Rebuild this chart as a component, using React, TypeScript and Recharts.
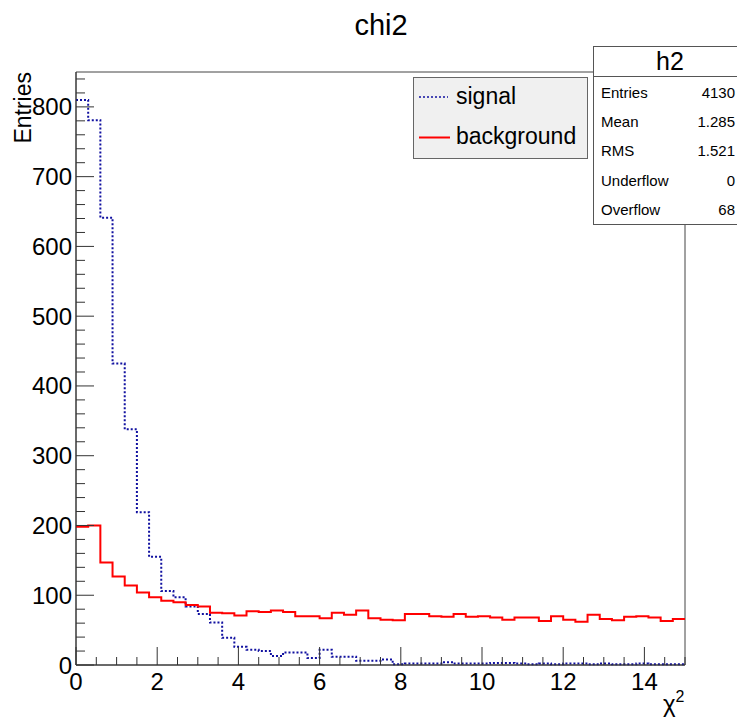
import { ComposedChart, Line, ReferenceArea, XAxis, YAxis } from 'recharts'

// 50 bins of width 0.3 over [0, 15]
const binWidth = 0.3
const signal = [
  810, 781, 641, 432, 338, 219, 155, 106, 97, 84,
  73, 61, 39, 26, 22, 20, 13, 18, 18, 10,
  22, 12, 12, 6, 6, 8, 1, 2, 2, 2,
  4, 2, 2, 2, 3, 3, 2, 1, 2, 1,
  2, 2, 1, 2, 1, 1, 2, 1, 1, 1,
]
const background = [
  198, 200, 147, 127, 114, 104, 97, 92, 90, 86,
  84, 75, 74, 71, 77, 76, 78, 76, 70, 70,
  67, 75, 72, 78, 67, 65, 64, 73, 73, 70,
  69, 73, 69, 70, 68, 65, 68, 68, 63, 70,
  65, 62, 72, 66, 64, 69, 70, 68, 63, 66,
]

const xTicks = [0, 0.5, 1, 1.5, 2, 2.5, 3, 3.5, 4, 4.5, 5, 5.5, 6, 6.5, 7, 7.5, 8, 8.5, 9, 9.5, 10, 10.5, 11, 11.5, 12, 12.5, 13, 13.5, 14, 14.5, 15]
const xLabels = [0, 2, 4, 6, 8, 10, 12, 14]
const yLabels = [0, 100, 200, 300, 400, 500, 600, 700, 800]
const yTicks = [
  0, 20, 40, 60, 80, 100, 120, 140, 160, 180, 200, 220, 240, 260, 280, 300, 320, 340, 360, 380,
  400, 420, 440, 460, 480, 500, 520, 540, 560, 580, 600, 620, 640, 660, 680, 700, 720, 740, 760,
  780, 800, 820, 840,
]

const statLabels = ['Entries', 'Mean', 'RMS', 'Underflow', 'Overflow']
const statValues = ['4130', '1.285', '1.521', '0', '68']

const font = '"Liberation Sans", Arial, Helvetica, sans-serif'

const data = signal.map((s, k) => ({
  x: Math.round(k * binWidth * 10) / 10,
  sig: s,
  bkg: background[k],
}))
data.push({ x: 15, sig: signal[signal.length - 1], bkg: background[background.length - 1] })

function YTick({ x, y, payload }: any) {
  const major = yLabels.includes(payload.value)
  return (
    <g>
      <line x1={x} x2={x + (major ? 18 : 9)} y1={y} y2={y} stroke="#333" />
      {major && (
        <text x={x - 4} y={y} textAnchor="end" dominantBaseline="central" fontSize={24} fontFamily={font} fill="#000">
          {payload.value}
        </text>
      )}
    </g>
  )
}

function XTick({ x, y, payload }: any) {
  const major = xLabels.includes(payload.value)
  return (
    <g>
      <line x1={x} x2={x} y1={y} y2={y - (major ? 18 : 8)} stroke="#333" />
      {major && (
        <text x={x} y={y + 16} textAnchor="middle" dominantBaseline="central" fontSize={24} fontFamily={font} fill="#000">
          {payload.value}
        </text>
      )}
    </g>
  )
}

export default function App() {
  return (
    <div style={{ position: 'absolute', left: 0, top: 0, width: 737, height: 720, background: '#fff' }}>
      <ComposedChart width={737} height={720} data={data} margin={{ top: 72, right: 52, bottom: 25, left: 0 }}>
        <XAxis
          type="number"
          dataKey="x"
          domain={[0, 15]}
          ticks={xTicks}
          interval={0}
          tickSize={0}
          tickMargin={0}
          tick={<XTick />}
          height={30}
          stroke="#333"
          allowDecimals
        />
        <YAxis
          type="number"
          domain={[0, 850]}
          ticks={yTicks}
          interval={0}
          tickSize={0}
          tickMargin={0}
          tick={<YTick />}
          width={76}
          stroke="#333"
        />
        <ReferenceArea x1={0} x2={15} y1={0} y2={850} fill="none" stroke="#444" strokeWidth={1} />
        <Line
          type="stepAfter"
          dataKey="sig"
          stroke="#1010a0"
          strokeWidth={2}
          strokeDasharray="2 2"
          dot={false}
          activeDot={false}
          isAnimationActive={false}
        />
        <Line
          type="stepAfter"
          dataKey="bkg"
          stroke="#ff0000"
          strokeWidth={2}
          dot={false}
          activeDot={false}
          isAnimationActive={false}
        />
      </ComposedChart>
      <svg width={737} height={720} style={{ position: 'absolute', left: 0, top: 0, pointerEvents: 'none' }} fontFamily={font}>
        <text x={381} y={35} textAnchor="middle" fontSize={29}>chi2</text>
        <text transform="translate(31,72) rotate(-90)" textAnchor="end" fontSize={23}>Entries</text>
        <text x={663} y={712} fontSize={24}>
          χ<tspan fontSize={16} dy={-10}>2</tspan>
        </text>

        <rect x={413.5} y={77.5} width={174} height={81} fill="#f0f0f0" stroke="#666" />
        <line x1={419} x2={448} y1={97} y2={97} stroke="#1010a0" strokeWidth={1.5} strokeDasharray="2 2" />
        <text x={456} y={104} fontSize={23}>signal</text>
        <line x1={419} x2={450} y1={137.5} y2={137.5} stroke="#ff0000" strokeWidth={2} />
        <text x={456} y={144} fontSize={23}>background</text>

        <rect x={593.5} y={46.5} width={150} height={178} fill="#fff" stroke="#555" />
        <line x1={593} x2={737} y1={76.5} y2={76.5} stroke="#555" />
        <text x={670} y={70} textAnchor="middle" fontSize={25}>h2</text>
        {statLabels.map((label, i) => (
          <g key={label}>
            <text x={601} y={97.5 + i * 29.4} fontSize={15}>{label}</text>
            <text x={735} y={97.5 + i * 29.4} fontSize={15} textAnchor="end">{statValues[i]}</text>
          </g>
        ))}
      </svg>
    </div>
  )
}
